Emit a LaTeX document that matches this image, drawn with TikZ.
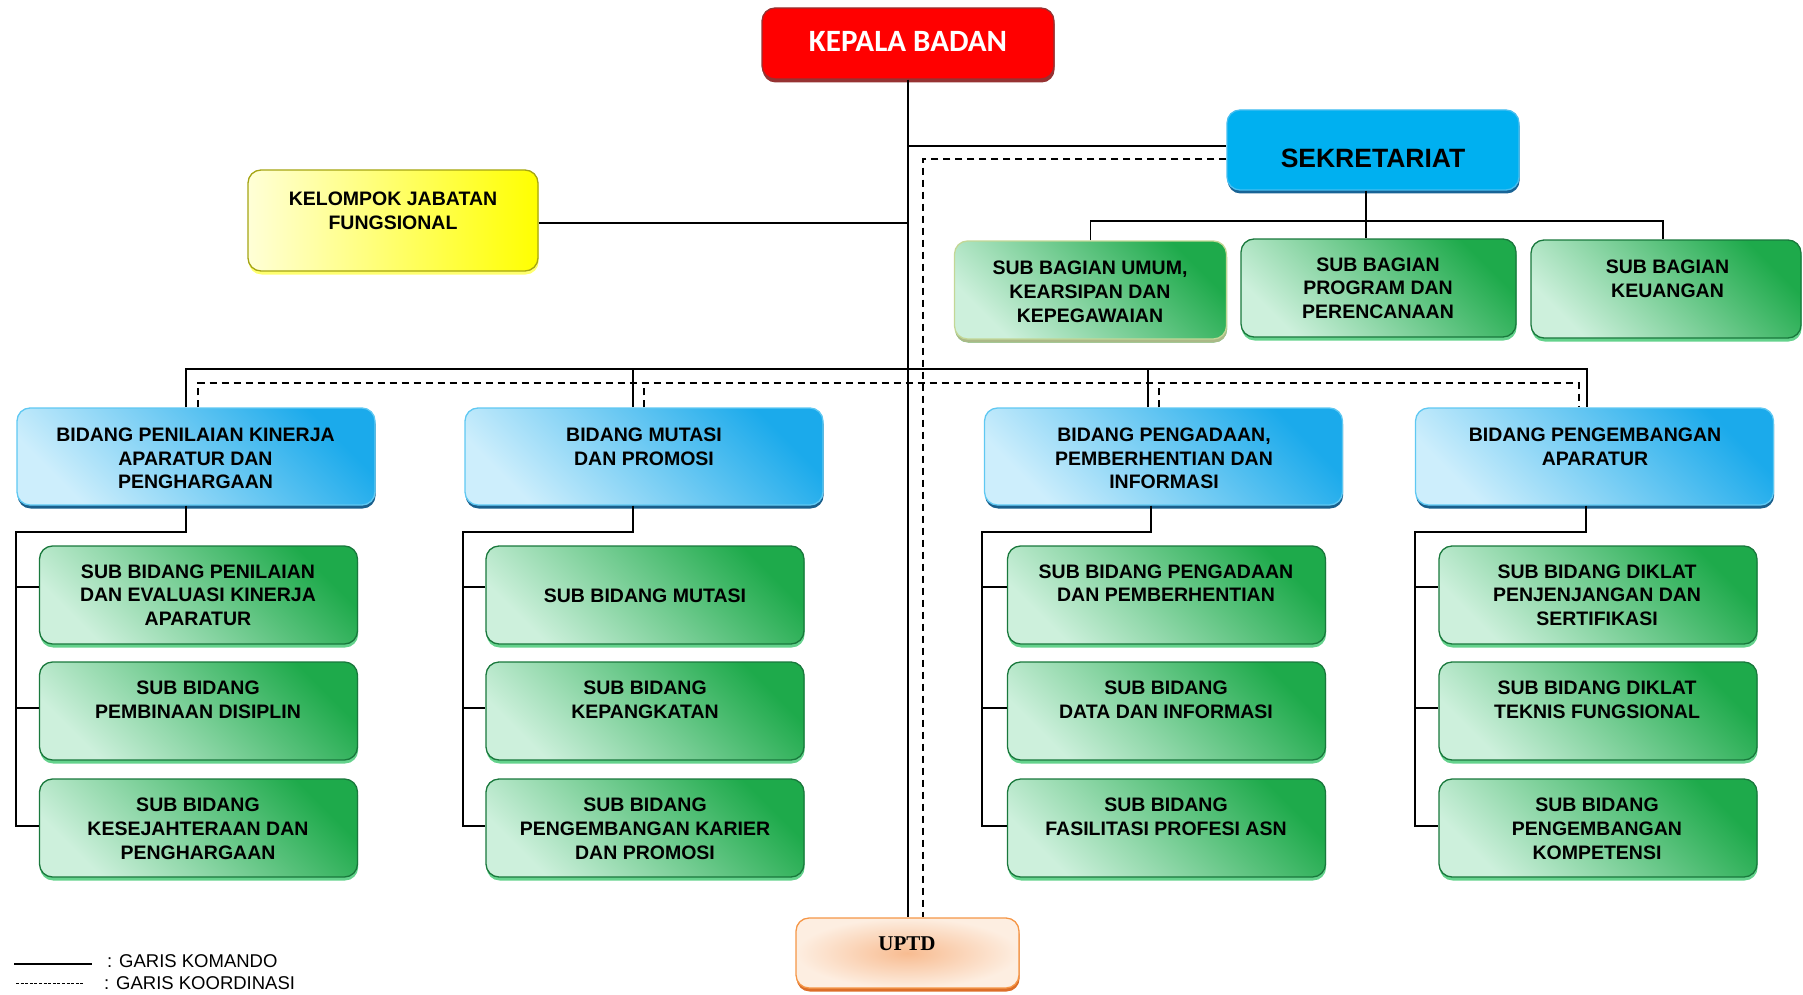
\documentclass[tikz,border=0pt]{standalone}
\usepackage{fontspec}
\setmainfont{Liberation Sans}
\newfontfamily\kbfont{Carlito}
\newfontfamily\uptdfont{Liberation Serif}
\usetikzlibrary{shadows}

\definecolor{kRed}{RGB}{255,0,0}
\definecolor{kDark}{RGB}{150,50,50}
\definecolor{sekFill}{RGB}{0,176,240}
\definecolor{sekDraw}{RGB}{70,190,240}
\definecolor{sekSh}{RGB}{25,100,150}
\definecolor{bidTop}{RGB}{27,170,235}
\definecolor{bidBot}{RGB}{205,238,252}
\definecolor{bidDraw}{RGB}{95,200,242}
\definecolor{bidSh}{RGB}{25,95,140}
\definecolor{subTop}{RGB}{30,170,75}
\definecolor{subBot}{RGB}{205,240,220}
\definecolor{subDraw}{RGB}{25,120,60}
\definecolor{subSh}{RGB}{100,210,140}
\definecolor{umDraw}{RGB}{195,215,150}
\definecolor{umSh}{RGB}{170,185,135}
\definecolor{kelL}{RGB}{255,255,215}
\definecolor{kelR}{RGB}{255,255,0}
\definecolor{kelDraw}{RGB}{165,165,20}
\definecolor{kelSh}{RGB}{255,255,110}
\definecolor{upIn}{RGB}{248,188,145}
\definecolor{upOut}{RGB}{253,238,225}
\definecolor{upDraw}{RGB}{245,150,70}
\definecolor{upSh}{RGB}{220,110,40}

\begin{document}
\begin{tikzpicture}[x=1pt,y=-1pt,
  box/.style={rounded corners=13pt, line width=1.3pt, inner sep=0pt},
  sh/.style={general shadow={fill=#1, shadow xshift=0.6pt, shadow yshift=-3.5pt}},
  kepalabox/.style={box, minimum width=292pt, minimum height=71pt, fill=kRed, draw=kDark, sh=kDark},
  sekbox/.style={box, minimum width=292pt, minimum height=80pt, fill=sekFill, draw=sekDraw, sh=sekSh},
  kelbox/.style={box, minimum width=290pt, minimum height=101pt, left color=kelL, right color=kelR, draw=kelDraw, sh=kelSh},
  bidangbox/.style={box, minimum width=358pt, minimum height=97pt, draw=bidDraw, top color=bidTop, bottom color=bidBot, shading angle=-45, sh=bidSh},
  subbox/.style={box, minimum width=318pt, minimum height=98pt, draw=subDraw, top color=subTop, bottom color=subBot, shading angle=-45, sh=subSh},
  bagbox/.style={box, minimum width=272pt, minimum height=98pt, draw=subDraw, top color=subTop, bottom color=subBot, shading angle=-45, sh=subSh},
  umbox/.style={bagbox, draw=umDraw, sh=umSh},
  uptdbox/.style={box, minimum width=223pt, minimum height=70pt, inner color=upIn, outer color=upOut, draw=upDraw, sh=upSh},
  lbl/.style={font=\bfseries\fontsize{19.5}{23.6}\selectfont, align=center, inner sep=0pt},
  legendtxt/.style={font=\fontsize{18.5}{22}\selectfont, inner sep=0pt, anchor=west},
  komando/.style={line width=1.6pt},
  koord/.style={line width=1.5pt, dash pattern=on 7pt off 5pt},
]
\useasboundingbox (0,0) rectangle (1803,995);

% ---------- boxes ----------
\node[kepalabox] (kb) at (908,43.5) {};
\node[sekbox] (sek) at (1373,150) {};
\node[kelbox] (kel) at (393,220.5) {};
\node[umbox] (sb1) at (1090.5,290) {};
\node[bagbox, minimum width=275pt] (sb2) at (1378.5,288) {};
\node[bagbox, minimum width=270pt] (sb3) at (1666,289) {};

\node[bidangbox] (b1) at (196,456.5) {};
\node[bidangbox] (b2) at (644,456.5) {};
\node[bidangbox] (b3) at (1163.5,456.5) {};
\node[bidangbox] (b4) at (1594.5,456.5) {};

\node[subbox] (s11) at (198.5,595) {};
\node[subbox] (s12) at (198.5,711) {};
\node[subbox] (s13) at (198.5,828) {};
\node[subbox] (s21) at (645,595) {};
\node[subbox] (s22) at (645,711) {};
\node[subbox] (s23) at (645,828) {};
\node[subbox] (s31) at (1166.5,595) {};
\node[subbox] (s32) at (1166.5,711) {};
\node[subbox] (s33) at (1166.5,828) {};
\node[subbox] (s41) at (1598,595) {};
\node[subbox] (s42) at (1598,711) {};
\node[subbox] (s43) at (1598,828) {};

\node[uptdbox] (uptd) at (907.5,953) {};

% ---------- texts ----------
\node[inner sep=0pt, text=white, font=\kbfont\bfseries\fontsize{31}{36}\selectfont] (kbt) at (908,41) {KEPALA BADAN};
\node[inner sep=0pt, font=\bfseries\fontsize{26.5}{30}\selectfont] (sekt) at (1373,158) {SEKRETARIAT};
\node[lbl, anchor=north] (kelt) at (393,192) {KELOMPOK JABATAN\\FUNGSIONAL};
\node[lbl, anchor=north] (sb1t) at (1090,261) {SUB BAGIAN UMUM,\\KEARSIPAN DAN\\KEPEGAWAIAN};
\node[lbl, anchor=north] (sb2t) at (1378,257.5) {SUB BAGIAN\\PROGRAM DAN\\PERENCANAAN};
\node[lbl, anchor=north] (sb3t) at (1667.5,260) {SUB BAGIAN\\KEUANGAN};

\node[lbl, anchor=north] (b1t) at (195.5,427.7) {BIDANG PENILAIAN KINERJA\\APARATUR DAN\\PENGHARGAAN};
\node[lbl, anchor=north] (b2t) at (644,427.7) {BIDANG MUTASI\\DAN PROMOSI};
\node[lbl, anchor=north] (b3t) at (1164,427.7) {BIDANG PENGADAAN,\\PEMBERHENTIAN DAN\\INFORMASI};
\node[lbl, anchor=north] (b4t) at (1595,427.7) {BIDANG PENGEMBANGAN\\APARATUR};

\node[lbl, anchor=north] (s11t) at (198,564.5) {SUB BIDANG PENILAIAN\\DAN EVALUASI KINERJA\\APARATUR};
\node[lbl, anchor=north] (s12t) at (198,680.7) {SUB BIDANG\\PEMBINAAN DISIPLIN};
\node[lbl, anchor=north] (s13t) at (198,798) {SUB BIDANG\\KESEJAHTERAAN DAN\\PENGHARGAAN};
\node[lbl] (s21t) at (645,595.7) {SUB BIDANG MUTASI};
\node[lbl, anchor=north] (s22t) at (645,680.7) {SUB BIDANG\\KEPANGKATAN};
\node[lbl, anchor=north] (s23t) at (645,798) {SUB BIDANG\\PENGEMBANGAN KARIER\\DAN PROMOSI};
\node[lbl, anchor=north] (s31t) at (1166,564.5) {SUB BIDANG PENGADAAN\\DAN PEMBERHENTIAN};
\node[lbl, anchor=north] (s32t) at (1166,680.7) {SUB BIDANG\\DATA DAN INFORMASI};
\node[lbl, anchor=north] (s33t) at (1166,798) {SUB BIDANG\\FASILITASI PROFESI ASN};
\node[lbl, anchor=north] (s41t) at (1597,564.5) {SUB BIDANG DIKLAT\\PENJENJANGAN DAN\\SERTIFIKASI};
\node[lbl, anchor=north] (s42t) at (1597,680.7) {SUB BIDANG DIKLAT\\TEKNIS FUNGSIONAL};
\node[lbl, anchor=north] (s43t) at (1597,798) {SUB BIDANG\\PENGEMBANGAN\\KOMPETENSI};

\node[inner sep=0pt, font=\uptdfont\bfseries\fontsize{21}{24}\selectfont] (uptdt) at (907,944) {UPTD};

% ---------- komando lines ----------
\draw[komando] (kb.south) -- (kb.south |- uptd.north);
\draw[komando] (kb.south |- 0,146) -- (sek.west |- 0,146);
\draw[komando] (kel.east |- 0,223) -- (kb.south |- 0,223);
\draw[komando] (sek.south -| 1366,0) -- (sb2.north -| 1366,0);
\draw[komando] (sb1.north) -- (sb1.north |- 0,221) -- (1663,221) -- (sb3.north -| 1663,0);
\draw[komando] (b1.north -| 186,0) -- (186,369) -- (1587,369) -- (b4.north -| 1587,0);
\draw[komando] (b2.north -| 633,0) -- (633,369);
\draw[komando] (b3.north -| 1148,0) -- (1148,369);

% column 1
\draw[komando] (b1.south -| 186,0) -- (186,532) -- (16,532) -- (16,826) -- (s13.west |- 0,826);
\draw[komando] (16,587) -- (s11.west |- 0,587);
\draw[komando] (16,708) -- (s12.west |- 0,708);
% column 2
\draw[komando] (b2.south -| 633,0) -- (633,532) -- (463,532) -- (463,826) -- (s23.west |- 0,826);
\draw[komando] (463,587) -- (s21.west |- 0,587);
\draw[komando] (463,708) -- (s22.west |- 0,708);
% column 3
\draw[komando] (b3.south -| 1151,0) -- (1151,532) -- (982,532) -- (982,826) -- (s33.west |- 0,826);
\draw[komando] (982,587) -- (s31.west |- 0,587);
\draw[komando] (982,708) -- (s32.west |- 0,708);
% column 4
\draw[komando] (b4.south -| 1586,0) -- (1586,532) -- (1415,532) -- (1415,826) -- (s43.west |- 0,826);
\draw[komando] (1415,587) -- (s41.west |- 0,587);
\draw[komando] (1415,708) -- (s42.west |- 0,708);

% ---------- koordinasi lines ----------
\draw[koord] (sek.west |- 0,159) -- (923,159) -- (uptd.north -| 923,0);
\draw[koord] (b1.north -| 198,0) -- (198,383) -- (1579,383) -- (b4.north -| 1579,0);
\draw[koord] (b2.north -| 644,0) -- (644,383);
\draw[koord] (b3.north -| 1159,0) -- (1159,383);

% ---------- legend ----------
\coordinate (la1) at (14,964);
\coordinate (la2) at (92,964);
\coordinate (lb1) at (16,983);
\coordinate (lb2) at (83,983);
\draw[komando] (la1) -- (la2);
\draw[line width=1pt, dash pattern=on 3pt off 1.6pt] (lb1) -- (lb2);
\node[legendtxt] (lt1) at (107,961) {: GARIS KOMANDO};
\node[legendtxt] (lt2) at (104,983) {: GARIS KOORDINASI};
\end{tikzpicture}
\end{document}
